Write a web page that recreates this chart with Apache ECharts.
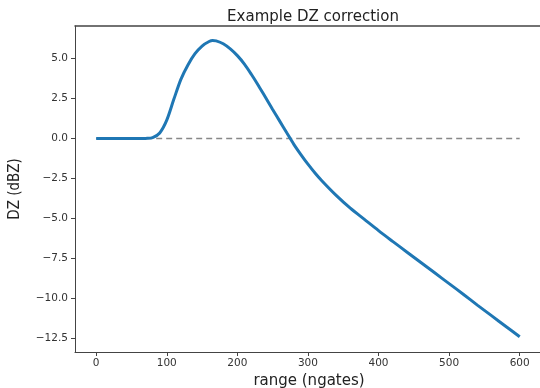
<!DOCTYPE html>
<html>
<head>
<meta charset="utf-8">
<script src="https://cdn.jsdelivr.net/npm/echarts@6/dist/echarts.min.js"></script>
<style>html,body{margin:0;padding:0;background:#fff}#c{width:540px;height:388px}</style>
</head>
<body>
<div id="c"></div>
<script>
// Data
const rangeGates = [0, 10, 20, 30, 40, 50, 60, 70, 80, 90, 100, 110, 120, 130, 140, 150, 160, 165, 170, 180, 190, 200, 210, 220, 230, 240, 250, 260, 270, 280, 290, 300, 310, 320, 340, 360, 380, 400, 420, 440, 460, 480, 500, 520, 540, 560, 580, 600];
const dzValues   = [0, 0, 0, 0, 0, 0, 0, 0.01, 0.06, 0.35, 1.15, 2.45, 3.7, 4.6, 5.3, 5.78, 6.06, 6.12, 6.1, 5.92, 5.6, 5.18, 4.65, 4.0, 3.3, 2.56, 1.82, 1.09, 0.36, -0.36, -1.0, -1.6, -2.15, -2.65, -3.55, -4.35, -5.05, -5.75, -6.42, -7.08, -7.74, -8.4, -9.06, -9.72, -10.4, -11.06, -11.72, -12.38];
const zeroLineX = [0, 600];
const xTicks = [0, 100, 200, 300, 400, 500, 600];
const yTicks = [-12.5, -10.0, -7.5, -5.0, -2.5, 0.0, 2.5, 5.0];
const titleText = 'Example DZ correction';
const xLabel = 'range (ngates)';
const yLabel = 'DZ (dBZ)';

const chart = echarts.init(document.getElementById('c'), null, {renderer: 'canvas'});
const fmt = v => (v < 0 ? '\u2212' : '') + Math.abs(v).toFixed(1);
const axisColor = '#333';
chart.setOption({
  animation: false,
  backgroundColor: '#fff',
  title: {
    text: titleText, left: 308, top: 5, textAlign: 'center',
    textStyle: {fontFamily: 'DejaVu Sans', fontSize: 15, fontWeight: 'normal', color: '#222'}
  },
  grid: {left: 75, top: 26, width: 468, height: 326, show: false, containLabel: false, outerBoundsMode: 'none'},
  xAxis: [{
    type: 'value', min: -30, max: 633,
    name: xLabel, nameLocation: 'middle', nameGap: 18,
    nameTextStyle: {fontFamily: 'DejaVu Sans', fontSize: 15, color: '#222'},
    axisLine: {show: true, onZero: false, lineStyle: {color: '#444', width: 1}},
    axisTick: {show: true, length: 4, customValues: xTicks, lineStyle: {color: '#444'}},
    axisLabel: {customValues: xTicks, margin: 6, fontFamily: 'DejaVu Sans', fontSize: 10.5, color: axisColor},
    splitLine: {show: false}
  }, {
    type: 'value', position: 'top', min: -30, max: 633, show: true, z: 10,
    axisLine: {show: true, onZero: false, lineStyle: {color: '#444', width: 1.5}},
    axisTick: {show: false}, axisLabel: {show: false}, splitLine: {show: false}
  }],
  yAxis: {
    type: 'value', min: -13.33, max: 7.03,
    name: yLabel, nameLocation: 'middle', nameGap: 52, nameRotate: 90,
    nameTextStyle: {fontFamily: 'DejaVu Sans Condensed', fontSize: 15, color: '#222'},
    axisLine: {show: true, onZero: false, lineStyle: {color: '#444', width: 1}},
    axisTick: {show: true, length: 4, customValues: yTicks, lineStyle: {color: '#444'}},
    axisLabel: {customValues: yTicks, margin: 7, formatter: fmt, fontFamily: 'DejaVu Sans', fontSize: 10.5, color: axisColor},
    splitLine: {show: false}
  },
  series: [
    {
      type: 'line', data: zeroLineX.map(x => [x, 0]), symbol: 'none', z: 1,
      lineStyle: {color: '#888', width: 1.5, type: [6, 4]}
    },
    {
      type: 'line', data: rangeGates.map((x, i) => [x, dzValues[i]]), symbol: 'none', smooth: 0.3, z: 2,
      lineStyle: {color: '#1f77b4', width: 3}
    }
  ]
});
</script>
</body>
</html>
